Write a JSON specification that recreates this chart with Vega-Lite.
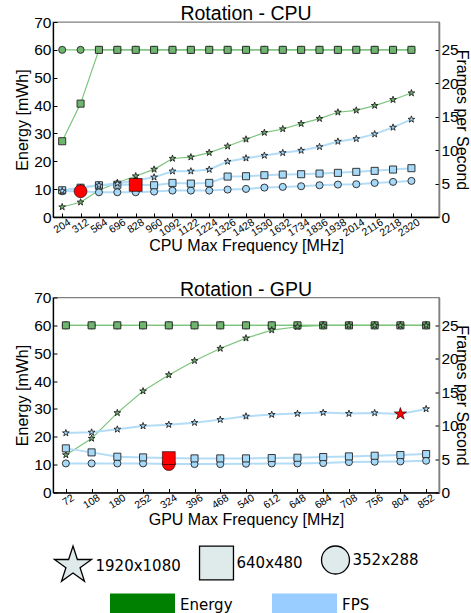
{
  "$schema": "https://vega.github.io/schema/vega-lite/v6.json",
  "background": "white",
  "padding": {"left": 14, "top": 3, "right": 0, "bottom": 0},
  "config": {
    "font": "Liberation Sans",
    "view": {"stroke": "#808080", "strokeWidth": 1.3},
    "axis": {"labelFont": "Liberation Sans", "titleFont": "Liberation Sans", "labelColor": "black", "titleColor": "black", "titleFontWeight": "normal", "grid": false, "domainColor": "black", "domainWidth": 1.3, "tickColor": "black", "tickWidth": 1},
    "title": {"font": "Liberation Sans", "fontSize": 19.5, "fontWeight": "normal", "offset": -9.5, "anchor": "middle", "color": "black"},
    "legend": {"labelFont": "DejaVu Sans", "labelFontSize": 15, "labelColor": "black", "title": null, "orient": "none", "direction": "horizontal", "padding": 0, "gridAlign": "none"}
  },
  "spacing": 24.5,
  "resolve": {"scale": {"x": "independent", "y": "independent", "shape": "shared", "color": "shared"}},
  "datasets": {
    "cpu": [
      {"freq":204,"res":"352x288","metric":"Energy","value":60},{"freq":312,"res":"352x288","metric":"Energy","value":60},{"freq":564,"res":"352x288","metric":"Energy","value":60},{"freq":696,"res":"352x288","metric":"Energy","value":60},{"freq":828,"res":"352x288","metric":"Energy","value":60},{"freq":960,"res":"352x288","metric":"Energy","value":60},{"freq":1092,"res":"352x288","metric":"Energy","value":60},{"freq":1122,"res":"352x288","metric":"Energy","value":60},{"freq":1224,"res":"352x288","metric":"Energy","value":60},{"freq":1326,"res":"352x288","metric":"Energy","value":60},{"freq":1428,"res":"352x288","metric":"Energy","value":60},{"freq":1530,"res":"352x288","metric":"Energy","value":60},{"freq":1632,"res":"352x288","metric":"Energy","value":60},{"freq":1734,"res":"352x288","metric":"Energy","value":60},{"freq":1836,"res":"352x288","metric":"Energy","value":60},{"freq":1938,"res":"352x288","metric":"Energy","value":60},{"freq":2014,"res":"352x288","metric":"Energy","value":60},{"freq":2116,"res":"352x288","metric":"Energy","value":60},{"freq":2218,"res":"352x288","metric":"Energy","value":60},{"freq":2320,"res":"352x288","metric":"Energy","value":60},
      {"freq":204,"res":"640x480","metric":"Energy","value":27.2},{"freq":312,"res":"640x480","metric":"Energy","value":40.7},{"freq":564,"res":"640x480","metric":"Energy","value":60},{"freq":696,"res":"640x480","metric":"Energy","value":60},{"freq":828,"res":"640x480","metric":"Energy","value":60},{"freq":960,"res":"640x480","metric":"Energy","value":60},{"freq":1092,"res":"640x480","metric":"Energy","value":60},{"freq":1122,"res":"640x480","metric":"Energy","value":60},{"freq":1224,"res":"640x480","metric":"Energy","value":60},{"freq":1326,"res":"640x480","metric":"Energy","value":60},{"freq":1428,"res":"640x480","metric":"Energy","value":60},{"freq":1530,"res":"640x480","metric":"Energy","value":60},{"freq":1632,"res":"640x480","metric":"Energy","value":60},{"freq":1734,"res":"640x480","metric":"Energy","value":60},{"freq":1836,"res":"640x480","metric":"Energy","value":60},{"freq":1938,"res":"640x480","metric":"Energy","value":60},{"freq":2014,"res":"640x480","metric":"Energy","value":60},{"freq":2116,"res":"640x480","metric":"Energy","value":60},{"freq":2218,"res":"640x480","metric":"Energy","value":60},{"freq":2320,"res":"640x480","metric":"Energy","value":60},
      {"freq":204,"res":"1920x1080","metric":"Energy","value":3.6},{"freq":312,"res":"1920x1080","metric":"Energy","value":5.3},{"freq":564,"res":"1920x1080","metric":"Energy","value":9.6},{"freq":696,"res":"1920x1080","metric":"Energy","value":12.3},{"freq":828,"res":"1920x1080","metric":"Energy","value":14.7},{"freq":960,"res":"1920x1080","metric":"Energy","value":17.1},{"freq":1092,"res":"1920x1080","metric":"Energy","value":21.0},{"freq":1122,"res":"1920x1080","metric":"Energy","value":21.5},{"freq":1224,"res":"1920x1080","metric":"Energy","value":23.1},{"freq":1326,"res":"1920x1080","metric":"Energy","value":25.4},{"freq":1428,"res":"1920x1080","metric":"Energy","value":27.9},{"freq":1530,"res":"1920x1080","metric":"Energy","value":30.3},{"freq":1632,"res":"1920x1080","metric":"Energy","value":31.6},{"freq":1734,"res":"1920x1080","metric":"Energy","value":33.5},{"freq":1836,"res":"1920x1080","metric":"Energy","value":35.3},{"freq":1938,"res":"1920x1080","metric":"Energy","value":37.6},{"freq":2014,"res":"1920x1080","metric":"Energy","value":38.3},{"freq":2116,"res":"1920x1080","metric":"Energy","value":40.0},{"freq":2218,"res":"1920x1080","metric":"Energy","value":42.1},{"freq":2320,"res":"1920x1080","metric":"Energy","value":44.5},
      {"freq":204,"res":"352x288","metric":"FPS","value":3.85},{"freq":312,"res":"352x288","metric":"FPS","value":3.85},{"freq":564,"res":"352x288","metric":"FPS","value":3.7},{"freq":696,"res":"352x288","metric":"FPS","value":3.7},{"freq":828,"res":"352x288","metric":"FPS","value":3.7},{"freq":960,"res":"352x288","metric":"FPS","value":3.8},{"freq":1092,"res":"352x288","metric":"FPS","value":3.95},{"freq":1122,"res":"352x288","metric":"FPS","value":3.95},{"freq":1224,"res":"352x288","metric":"FPS","value":3.95},{"freq":1326,"res":"352x288","metric":"FPS","value":4.1},{"freq":1428,"res":"352x288","metric":"FPS","value":4.2},{"freq":1530,"res":"352x288","metric":"FPS","value":4.4},{"freq":1632,"res":"352x288","metric":"FPS","value":4.5},{"freq":1734,"res":"352x288","metric":"FPS","value":4.6},{"freq":1836,"res":"352x288","metric":"FPS","value":4.75},{"freq":1938,"res":"352x288","metric":"FPS","value":4.85},{"freq":2014,"res":"352x288","metric":"FPS","value":4.9},{"freq":2116,"res":"352x288","metric":"FPS","value":5.1},{"freq":2218,"res":"352x288","metric":"FPS","value":5.25},{"freq":2320,"res":"352x288","metric":"FPS","value":5.4},
      {"freq":204,"res":"640x480","metric":"FPS","value":4.0},{"freq":312,"res":"640x480","metric":"FPS","value":4.38},{"freq":564,"res":"640x480","metric":"FPS","value":4.75},{"freq":696,"res":"640x480","metric":"FPS","value":4.83},{"freq":828,"res":"640x480","metric":"FPS","value":4.85},{"freq":960,"res":"640x480","metric":"FPS","value":4.75},{"freq":1092,"res":"640x480","metric":"FPS","value":5.1},{"freq":1122,"res":"640x480","metric":"FPS","value":5.0},{"freq":1224,"res":"640x480","metric":"FPS","value":5.1},{"freq":1326,"res":"640x480","metric":"FPS","value":6.05},{"freq":1428,"res":"640x480","metric":"FPS","value":6.1},{"freq":1530,"res":"640x480","metric":"FPS","value":6.25},{"freq":1632,"res":"640x480","metric":"FPS","value":6.35},{"freq":1734,"res":"640x480","metric":"FPS","value":6.4},{"freq":1836,"res":"640x480","metric":"FPS","value":6.5},{"freq":1938,"res":"640x480","metric":"FPS","value":6.6},{"freq":2014,"res":"640x480","metric":"FPS","value":6.75},{"freq":2116,"res":"640x480","metric":"FPS","value":6.9},{"freq":2218,"res":"640x480","metric":"FPS","value":7.1},{"freq":2320,"res":"640x480","metric":"FPS","value":7.3},
      {"freq":204,"res":"1920x1080","metric":"FPS","value":3.9},{"freq":312,"res":"1920x1080","metric":"FPS","value":4.4},{"freq":564,"res":"1920x1080","metric":"FPS","value":4.75},{"freq":696,"res":"1920x1080","metric":"FPS","value":5.0},{"freq":828,"res":"1920x1080","metric":"FPS","value":5.45},{"freq":960,"res":"1920x1080","metric":"FPS","value":5.95},{"freq":1092,"res":"1920x1080","metric":"FPS","value":6.85},{"freq":1122,"res":"1920x1080","metric":"FPS","value":6.85},{"freq":1224,"res":"1920x1080","metric":"FPS","value":7.1},{"freq":1326,"res":"1920x1080","metric":"FPS","value":8.3},{"freq":1428,"res":"1920x1080","metric":"FPS","value":8.8},{"freq":1530,"res":"1920x1080","metric":"FPS","value":9.2},{"freq":1632,"res":"1920x1080","metric":"FPS","value":9.6},{"freq":1734,"res":"1920x1080","metric":"FPS","value":9.95},{"freq":1836,"res":"1920x1080","metric":"FPS","value":10.5},{"freq":1938,"res":"1920x1080","metric":"FPS","value":11.3},{"freq":2014,"res":"1920x1080","metric":"FPS","value":11.7},{"freq":2116,"res":"1920x1080","metric":"FPS","value":12.4},{"freq":2218,"res":"1920x1080","metric":"FPS","value":13.4},{"freq":2320,"res":"1920x1080","metric":"FPS","value":14.6},
      {"freq":312,"res":"352x288","metric":"Best","value":3.85},{"freq":828,"res":"640x480","metric":"Best","value":4.8}
    ],
    "gpu": [
      {"freq":72,"res":"352x288","metric":"Energy","value":60},{"freq":108,"res":"352x288","metric":"Energy","value":60},{"freq":180,"res":"352x288","metric":"Energy","value":60},{"freq":252,"res":"352x288","metric":"Energy","value":60},{"freq":324,"res":"352x288","metric":"Energy","value":60},{"freq":396,"res":"352x288","metric":"Energy","value":60},{"freq":468,"res":"352x288","metric":"Energy","value":60},{"freq":540,"res":"352x288","metric":"Energy","value":60},{"freq":612,"res":"352x288","metric":"Energy","value":60},{"freq":648,"res":"352x288","metric":"Energy","value":60},{"freq":684,"res":"352x288","metric":"Energy","value":60},{"freq":708,"res":"352x288","metric":"Energy","value":60},{"freq":756,"res":"352x288","metric":"Energy","value":60},{"freq":804,"res":"352x288","metric":"Energy","value":60},{"freq":852,"res":"352x288","metric":"Energy","value":60},
      {"freq":72,"res":"640x480","metric":"Energy","value":60},{"freq":108,"res":"640x480","metric":"Energy","value":60},{"freq":180,"res":"640x480","metric":"Energy","value":60},{"freq":252,"res":"640x480","metric":"Energy","value":60},{"freq":324,"res":"640x480","metric":"Energy","value":60},{"freq":396,"res":"640x480","metric":"Energy","value":60},{"freq":468,"res":"640x480","metric":"Energy","value":60},{"freq":540,"res":"640x480","metric":"Energy","value":60},{"freq":612,"res":"640x480","metric":"Energy","value":60},{"freq":648,"res":"640x480","metric":"Energy","value":60},{"freq":684,"res":"640x480","metric":"Energy","value":60},{"freq":708,"res":"640x480","metric":"Energy","value":60},{"freq":756,"res":"640x480","metric":"Energy","value":60},{"freq":804,"res":"640x480","metric":"Energy","value":60},{"freq":852,"res":"640x480","metric":"Energy","value":60},
      {"freq":72,"res":"1920x1080","metric":"Energy","value":13.5},{"freq":108,"res":"1920x1080","metric":"Energy","value":19.4},{"freq":180,"res":"1920x1080","metric":"Energy","value":28.6},{"freq":252,"res":"1920x1080","metric":"Energy","value":36.4},{"freq":324,"res":"1920x1080","metric":"Energy","value":42.2},{"freq":396,"res":"1920x1080","metric":"Energy","value":47.3},{"freq":468,"res":"1920x1080","metric":"Energy","value":51.7},{"freq":540,"res":"1920x1080","metric":"Energy","value":55.4},{"freq":612,"res":"1920x1080","metric":"Energy","value":58.3},{"freq":648,"res":"1920x1080","metric":"Energy","value":59.5},{"freq":684,"res":"1920x1080","metric":"Energy","value":60},{"freq":708,"res":"1920x1080","metric":"Energy","value":60},{"freq":756,"res":"1920x1080","metric":"Energy","value":60},{"freq":804,"res":"1920x1080","metric":"Energy","value":60},{"freq":852,"res":"1920x1080","metric":"Energy","value":60},
      {"freq":72,"res":"352x288","metric":"FPS","value":4.35},{"freq":108,"res":"352x288","metric":"FPS","value":4.35},{"freq":180,"res":"352x288","metric":"FPS","value":4.35},{"freq":252,"res":"352x288","metric":"FPS","value":4.35},{"freq":324,"res":"352x288","metric":"FPS","value":4.25},{"freq":396,"res":"352x288","metric":"FPS","value":4.25},{"freq":468,"res":"352x288","metric":"FPS","value":4.25},{"freq":540,"res":"352x288","metric":"FPS","value":4.3},{"freq":612,"res":"352x288","metric":"FPS","value":4.35},{"freq":648,"res":"352x288","metric":"FPS","value":4.35},{"freq":684,"res":"352x288","metric":"FPS","value":4.4},{"freq":708,"res":"352x288","metric":"FPS","value":4.55},{"freq":756,"res":"352x288","metric":"FPS","value":4.6},{"freq":804,"res":"352x288","metric":"FPS","value":4.65},{"freq":852,"res":"352x288","metric":"FPS","value":4.75},
      {"freq":72,"res":"640x480","metric":"FPS","value":6.6},{"freq":108,"res":"640x480","metric":"FPS","value":6.0},{"freq":180,"res":"640x480","metric":"FPS","value":5.35},{"freq":252,"res":"640x480","metric":"FPS","value":5.25},{"freq":324,"res":"640x480","metric":"FPS","value":5.15},{"freq":396,"res":"640x480","metric":"FPS","value":5.1},{"freq":468,"res":"640x480","metric":"FPS","value":5.1},{"freq":540,"res":"640x480","metric":"FPS","value":5.1},{"freq":612,"res":"640x480","metric":"FPS","value":5.15},{"freq":648,"res":"640x480","metric":"FPS","value":5.2},{"freq":684,"res":"640x480","metric":"FPS","value":5.3},{"freq":708,"res":"640x480","metric":"FPS","value":5.4},{"freq":756,"res":"640x480","metric":"FPS","value":5.5},{"freq":804,"res":"640x480","metric":"FPS","value":5.6},{"freq":852,"res":"640x480","metric":"FPS","value":5.75},
      {"freq":72,"res":"1920x1080","metric":"FPS","value":8.9},{"freq":108,"res":"1920x1080","metric":"FPS","value":9.0},{"freq":180,"res":"1920x1080","metric":"FPS","value":9.45},{"freq":252,"res":"1920x1080","metric":"FPS","value":9.95},{"freq":324,"res":"1920x1080","metric":"FPS","value":10.15},{"freq":396,"res":"1920x1080","metric":"FPS","value":10.45},{"freq":468,"res":"1920x1080","metric":"FPS","value":10.9},{"freq":540,"res":"1920x1080","metric":"FPS","value":11.4},{"freq":612,"res":"1920x1080","metric":"FPS","value":11.65},{"freq":648,"res":"1920x1080","metric":"FPS","value":11.8},{"freq":684,"res":"1920x1080","metric":"FPS","value":11.95},{"freq":708,"res":"1920x1080","metric":"FPS","value":11.8},{"freq":756,"res":"1920x1080","metric":"FPS","value":11.9},{"freq":804,"res":"1920x1080","metric":"FPS","value":11.75},{"freq":852,"res":"1920x1080","metric":"FPS","value":12.5},
      {"freq":324,"res":"352x288","metric":"Best","value":4.25},{"freq":324,"res":"640x480","metric":"Best","value":5.15},{"freq":804,"res":"1920x1080","metric":"Best","value":11.75}
    ]
  },
  "vconcat": [
    {
      "title": "Rotation - CPU",
      "width": 386,
      "height": 195,
      "data": {"name": "cpu"},
      "encoding": {
        "x": {"field": "freq", "type": "ordinal", "scale": {"type": "point", "padding": 1, "align": 0.25},
          "axis": {"title": "CPU Max Frequency [MHz]", "titleFontSize": 16, "titlePadding": -1, "labelAngle": -33, "labelFontSize": 10.5, "labelAlign": "right", "labelBaseline": "middle", "labelOffset": 7, "tickSize": -4, "labelPadding": 8}}
      },
      "layer": [
        {"transform": [{"filter": "false"}],
          "mark": {"type": "point", "filled": true, "fill": "#dfeaea", "stroke": "#000000", "strokeWidth": 1.3, "opacity": 1},
          "encoding": {
            "shape": {"field": "res", "type": "nominal",
              "scale": {"domain": ["1920x1080", "640x480", "352x288"], "range": ["M0,-1L0.2245,-0.309L0.951,-0.309L0.363,0.118L0.588,0.809L0,0.382L-0.588,0.809L-0.363,0.118L-0.951,-0.309L-0.2245,-0.309Z", "square", "circle"]},
              "legend": {"legendX": -0.5, "legendY": 523, "labelOffset": 2, "columnPadding": 15, "symbolOpacity": 1, "symbolStrokeWidth": 1.3,
                "encode": {"symbols": {"fill": {"value": "#dfeaea"}, "stroke": {"value": "#000000"}, "opacity": {"value": 1}}}}},
            "size": {"field": "res", "type": "ordinal",
              "scale": {"domain": ["1920x1080", "640x480", "352x288"], "range": [1521, 784, 784]},
              "legend": {"legendX": -0.5, "legendY": 523, "labelOffset": 2, "columnPadding": 15, "symbolOpacity": 1, "symbolStrokeWidth": 1.3,
                "encode": {"symbols": {"fill": {"value": "#dfeaea"}, "stroke": {"value": "#000000"}, "opacity": {"value": 1}}}}}
          }},
        {
          "transform": [{"filter": "datum.metric === 'Energy'"}],
          "encoding": {"y": {"field": "value", "type": "quantitative", "scale": {"domain": [0, 70], "nice": false},
            "axis": {"orient": "left", "title": "Energy [mWh]", "titleFontSize": 16, "labelFontSize": 15.5, "values": [0,10,20,30,40,50,60,70], "tickSize": -4, "labelPadding": 6, "titlePadding": 3}}},
          "layer": [
            {"mark": {"type": "line", "color": "#7cc47c", "strokeWidth": 1.2}, "encoding": {"detail": {"field": "res"}}},
            {"mark": {"type": "point", "filled": true, "fill": "#6fb46f", "stroke": "#222222", "strokeWidth": 0.9, "opacity": 1, "size": 50},
              "encoding": {"shape": {"field": "res", "type": "nominal"}}},
            {"transform": [{"filter": "false"}],
              "mark": {"type": "square", "filled": true, "opacity": 1},
              "encoding": {"color": {"field": "metric", "type": "nominal", "scale": {"domain": ["Energy", "FPS"], "range": ["#008000", "#99ccff"]},
                "legend": {"legendX": 57, "legendY": 550, "symbolType": "M-1,-0.34H1V0.34H-1Z", "symbolSize": 4225, "symbolStrokeWidth": 0, "symbolOpacity": 1, "labelOffset": 5, "columnPadding": 39}}}}
          ]
        },
        {
          "transform": [{"filter": "datum.metric !== 'Energy'"}],
          "encoding": {"y": {"field": "value", "type": "quantitative", "scale": {"domain": [0, 29.1667], "nice": false},
            "axis": {"orient": "right", "title": "Frames per Second", "titleFontSize": 16, "labelFontSize": 15.5, "values": [0,5,10,15,20,25], "tickSize": -4, "labelPadding": 6, "titlePadding": -5, "domainColor": "#808080", "domainWidth": 1.6}}},
          "layer": [
            {"transform": [{"filter": "datum.metric === 'FPS'"}], "mark": {"type": "line", "color": "#b3dcf6", "strokeWidth": 2}, "encoding": {"detail": {"field": "res"}}},
            {"transform": [{"filter": "datum.metric === 'FPS'"}],
              "mark": {"type": "point", "filled": true, "fill": "#a6d8f8", "stroke": "#222222", "strokeWidth": 0.9, "opacity": 1, "size": 50},
              "encoding": {"shape": {"field": "res", "type": "nominal"}}},
            {"transform": [{"filter": "datum.metric === 'Best'"}],
              "mark": {"type": "point", "filled": true, "fill": "#ff0000", "stroke": "#000000", "strokeWidth": 0.6, "opacity": 1, "size": 165},
              "encoding": {"shape": {"field": "res", "type": "nominal"}}}
          ]
        }
      ],
      "resolve": {"scale": {"y": "independent"}}
    },
    {
      "title": "Rotation - GPU",
      "width": 386,
      "height": 195,
      "data": {"name": "gpu"},
      "encoding": {
        "x": {"field": "freq", "type": "ordinal", "scale": {"type": "point", "padding": 0.5, "align": 0.5},
          "axis": {"title": "GPU Max Frequency [MHz]", "titleFontSize": 16, "titlePadding": 1, "labelAngle": -33, "labelFontSize": 10.5, "labelAlign": "right", "labelBaseline": "middle", "labelOffset": 7, "tickSize": -4, "labelPadding": 8}}
      },
      "layer": [
        {
          "transform": [{"filter": "datum.metric === 'Energy'"}],
          "encoding": {"y": {"field": "value", "type": "quantitative", "scale": {"domain": [0, 70], "nice": false},
            "axis": {"orient": "left", "title": "Energy [mWh]", "titleFontSize": 16, "labelFontSize": 15.5, "values": [0,10,20,30,40,50,60,70], "tickSize": -4, "labelPadding": 6, "titlePadding": 3}}},
          "layer": [
            {"mark": {"type": "line", "color": "#7cc47c", "strokeWidth": 1.2}, "encoding": {"detail": {"field": "res"}}},
            {"mark": {"type": "point", "filled": true, "fill": "#6fb46f", "stroke": "#222222", "strokeWidth": 0.9, "opacity": 1, "size": 50},
              "encoding": {"shape": {"field": "res", "type": "nominal"}}}
          ]
        },
        {
          "transform": [{"filter": "datum.metric !== 'Energy'"}],
          "encoding": {"y": {"field": "value", "type": "quantitative", "scale": {"domain": [0, 29.1667], "nice": false},
            "axis": {"orient": "right", "title": "Frames per Second", "titleFontSize": 16, "labelFontSize": 15.5, "values": [0,5,10,15,20,25], "tickSize": -4, "labelPadding": 6, "titlePadding": -5, "domainColor": "#808080", "domainWidth": 1.6}}},
          "layer": [
            {"transform": [{"filter": "datum.metric === 'FPS'"}], "mark": {"type": "line", "color": "#b3dcf6", "strokeWidth": 2}, "encoding": {"detail": {"field": "res"}}},
            {"transform": [{"filter": "datum.metric === 'FPS'"}],
              "mark": {"type": "point", "filled": true, "fill": "#a6d8f8", "stroke": "#222222", "strokeWidth": 0.9, "opacity": 1, "size": 50},
              "encoding": {"shape": {"field": "res", "type": "nominal"}}},
            {"transform": [{"filter": "datum.metric === 'Best'"}],
              "mark": {"type": "point", "filled": true, "fill": "#ff0000", "stroke": "#000000", "strokeWidth": 0.6, "opacity": 1, "size": 165},
              "encoding": {"shape": {"field": "res", "type": "nominal"}}}
          ]
        }
      ],
      "resolve": {"scale": {"y": "independent"}}
    }
  ]
}
